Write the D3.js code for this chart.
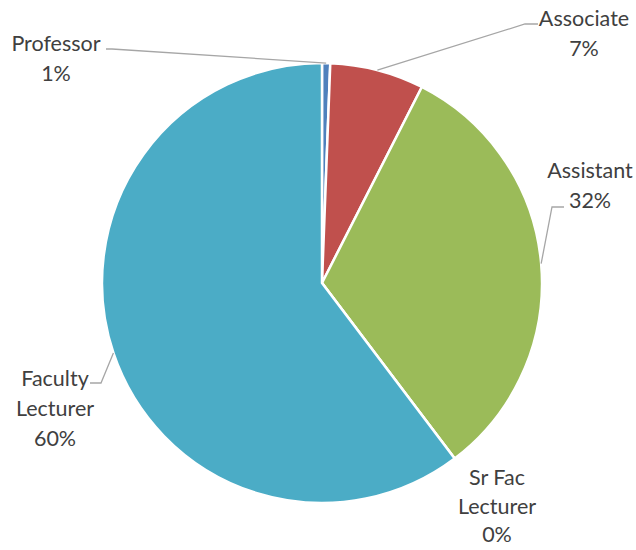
<!DOCTYPE html>
<html>
  <head>
    <meta charset="UTF-8">
    <title>Faculty Rank</title>
    <script src="https://cdn.jsdelivr.net/npm/d3@7"></script>
    <style type="text/css">
      body { margin: 0; background: #fff; }
      .label { font-family: Lato, "Liberation Sans", sans-serif; font-size: 21.5px; fill: #404040; }
      .leader { fill: none; stroke: #a6a6a6; stroke-width: 1.3; }
    </style>
  </head>
  <body>
  <script type="text/javascript">

    // data
    var categories = ['Professor', 'Associate', 'Assistant', 'Sr Fac Lecturer', 'Faculty Lecturer'];
    var values = [0.6, 6.9, 32.2, 0, 60.3];
    var colors = ['#4f81bd', '#c0504d', '#9bbb59', '#8064a2', '#4bacc6'];
    // label lines (as they wrap in the picture)
    var labelLines = [['Professor'], ['Associate'], ['Assistant'], ['Sr Fac', 'Lecturer'], ['Faculty', 'Lecturer']];

    var width = 636, height = 550,
      cx = 322, cy = 283, radius = 220,
      lineH = 30;

    // where each label block sits (centre x, first baseline y, line step) and the elbow of its leader
    var labelLayout = [
      {x: 56, y: 51, step: lineH, elbow: [[106, 49], [112, 49]]},
      {x: 584, y: 26, step: lineH, elbow: [[538, 24], [525, 24]]},
      {x: 590, y: 178, step: lineH, elbow: [[564, 207], [552, 207]]},
      {x: 497, y: 485, step: 28.5, elbow: null},
      {x: 55, y: 386, step: lineH, elbow: [[90, 383], [101, 383]]}
    ];

    var svg = d3.select('body')
      .append('svg')
      .attr('width', width)
      .attr('height', height);

    var g = svg.append('g')
      .attr('transform', 'translate(' + cx + ',' + cy + ')');

    var pie = d3.pie().sort(null).value(function(d) { return d; });
    var arcs = pie(values);
    var total = d3.sum(values);

    var arc = d3.arc().innerRadius(0).outerRadius(radius);
    var edgeArc = d3.arc().innerRadius(radius).outerRadius(radius);

    g.selectAll('path.slice')
      .data(arcs)
      .enter()
      .append('path')
      .attr('class', 'slice')
      .attr('d', arc)
      .attr('fill', function(d, i) { return colors[i]; })
      .attr('stroke', '#fff')
      .attr('stroke-width', 2.5)
      .attr('stroke-linejoin', 'round');

    // leader lines
    arcs.forEach(function(d, i) {
      var lay = labelLayout[i];
      if (!lay.elbow || d.value === 0) return;
      var c = edgeArc.centroid(d);
      var pts = lay.elbow.concat([[c[0] + cx, c[1] + cy]]);
      svg.append('polyline')
        .attr('class', 'leader')
        .attr('points', pts.map(function(p) { return p.join(','); }).join(' '));
    });

    // labels
    arcs.forEach(function(d, i) {
      var lay = labelLayout[i];
      var lines = labelLines[i].concat([Math.round(d.value / total * 100) + '%']);
      var t = svg.append('text')
        .attr('class', 'label')
        .attr('text-anchor', 'middle');
      lines.forEach(function(s, k) {
        t.append('tspan')
          .attr('x', lay.x)
          .attr('y', lay.y + k * lay.step)
          .text(s);
      });
    });

  </script>
  </body>
</html>
